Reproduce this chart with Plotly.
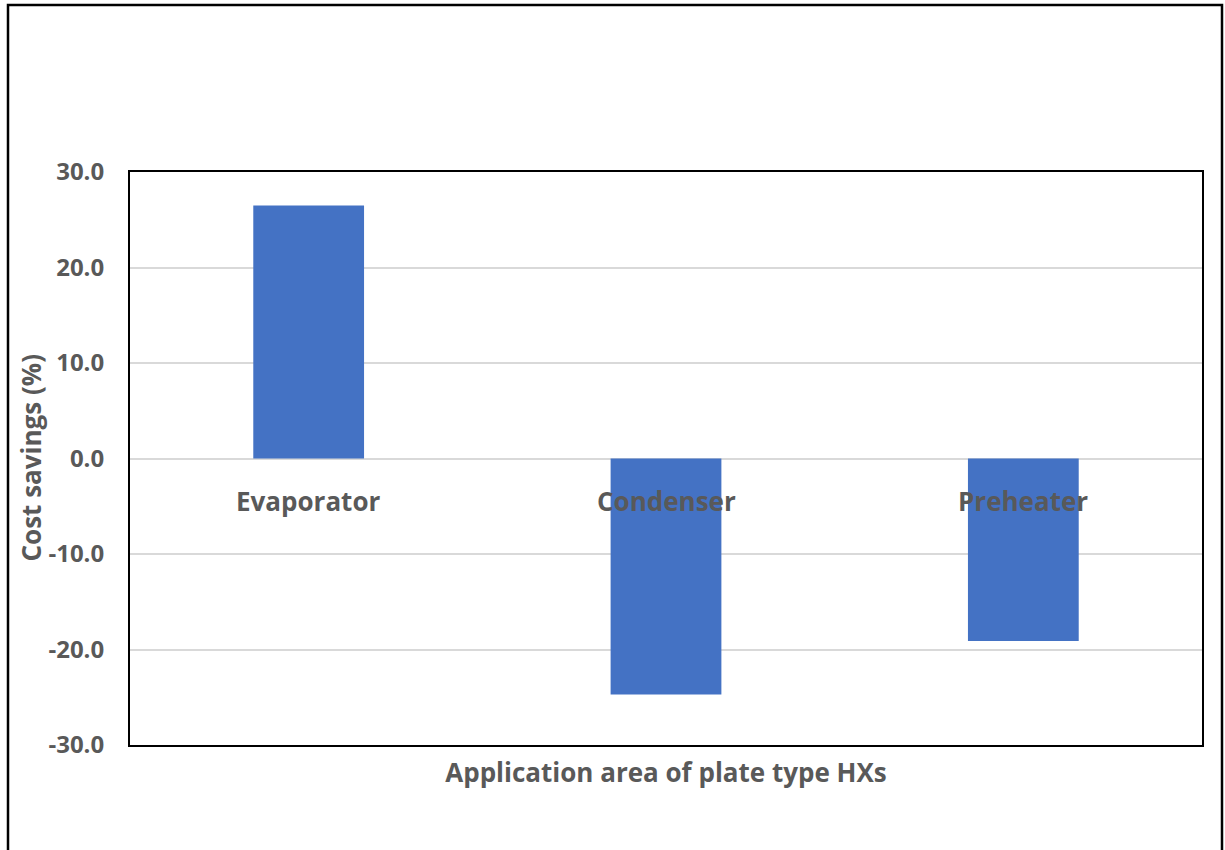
import plotly.graph_objects as go

categories = ["Evaporator", "Condenser", "Preheater"]
savings = [26.5, -24.7, -19.1]
y_ticks = [-30, -20, -10, 0, 10, 20, 30]
y_tick_labels = ["-30.0", "-20.0", "-10.0", "0.0", "10.0", "20.0", "30.0"]

FONT = "Open Sans"
GREY = "#595959"
W, H = 1225, 850
L, R, T, B = 130, 23, 172, 105
PW = W - L - R
PH = H - T - B

fig = go.Figure()
fig.add_trace(go.Bar(
    x=categories, y=savings,
    marker=dict(color="#4472C4", line=dict(width=0)),
    width=0.31,
))

for c in categories:
    fig.add_annotation(
        x=c, y=0, xref="x", yref="y", text="<b>%s</b>" % c,
        showarrow=False, yanchor="middle", yshift=-42,
        font=dict(family=FONT, size=26, color=GREY),
    )

fig.add_annotation(
    x=(30 - L) / PW, y=0.5, xref="paper", yref="paper",
    xanchor="center", yanchor="middle",
    text="<b>Cost savings (%)</b>", textangle=-90, showarrow=False,
    font=dict(family=FONT, size=26, color=GREY),
)

fig.update_layout(
    width=W, height=H,
    margin=dict(l=L, r=R, t=T, b=B),
    paper_bgcolor="white", plot_bgcolor="white",
    showlegend=False,
    bargap=0.69,
    xaxis=dict(
        showticklabels=False, showgrid=False, zeroline=False,
        showline=True, linecolor="black", linewidth=2, mirror=True,
        title=dict(text="<b>Application area of plate type HXs</b>", standoff=18,
                   font=dict(family=FONT, size=26, color=GREY)),
    ),
    yaxis=dict(
        range=[-30, 30], tickvals=y_ticks, ticktext=y_tick_labels,
        showgrid=True, gridcolor="#D9D9D9", gridwidth=2,
        zeroline=True, zerolinecolor="#D9D9D9", zerolinewidth=2,
        showline=True, linecolor="black", linewidth=2, mirror=True,
        ticks="", ticklabelstandoff=19,
        tickfont=dict(family=FONT, size=24, color=GREY, weight="bold"),
    ),
    shapes=[dict(
        type="rect", xref="paper", yref="paper",
        x0=(8 - L) / PW, x1=(1222 - L) / PW,
        y0=-0.5, y1=(H - B - 5) / PH,
        line=dict(color="black", width=2.5), layer="below",
    )],
)

fig.write_html(
    "out.html",
    config={"displayModeBar": False},
    post_script="document.body.style.margin='0';document.body.style.overflow='hidden';",
)
